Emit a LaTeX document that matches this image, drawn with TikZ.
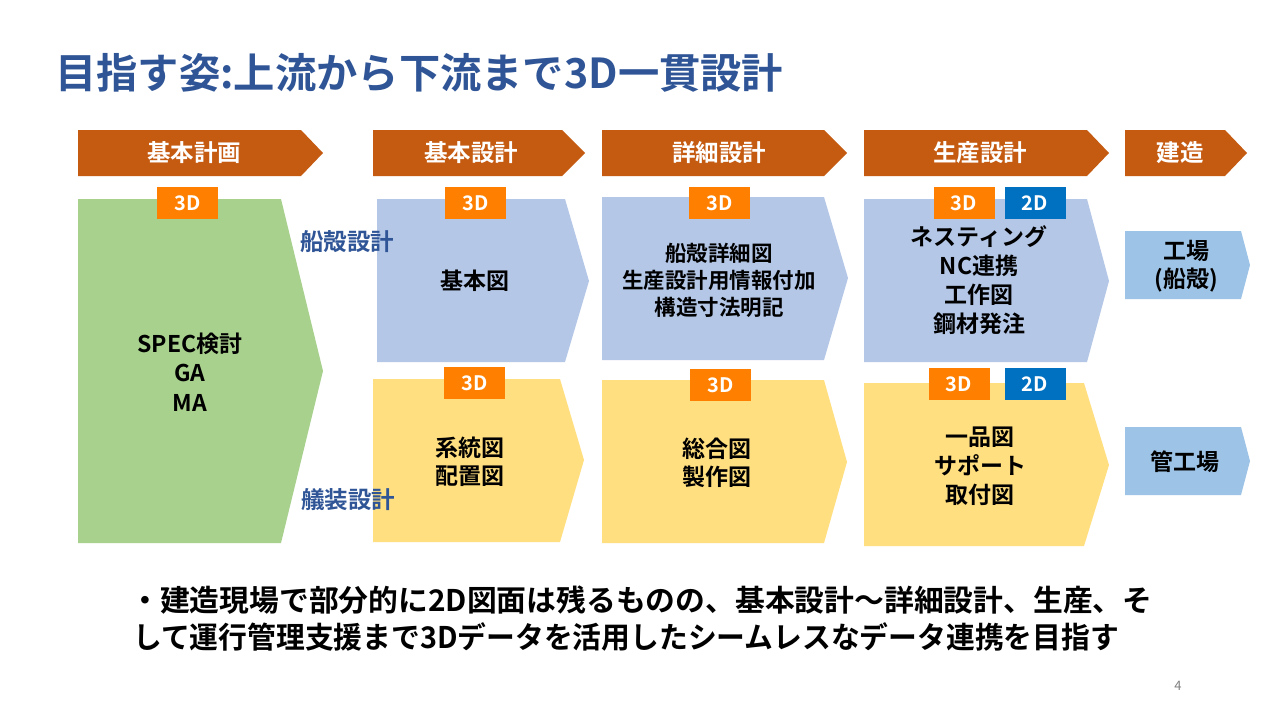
\documentclass[tikz,border=0pt]{standalone}
\usepackage{fontspec}
\setmainfont{Noto Sans CJK JP}[BoldFont={Noto Sans CJK JP Bold}]
\definecolor{hdrc}{HTML}{C55A11}
\definecolor{greenc}{HTML}{A9D18E}
\definecolor{bluec}{HTML}{B4C7E7}
\definecolor{yellowc}{HTML}{FFDF80}
\definecolor{factc}{HTML}{9DC3E6}
\definecolor{orangec}{HTML}{FF8000}
\definecolor{twodc}{HTML}{0070C0}
\definecolor{titlec}{HTML}{2F5597}
\begin{document}
\begin{tikzpicture}[x=1pt,y=-1pt,
  hdrtext/.style={text=white,font=\fontsize{23.5}{26}\selectfont\bfseries,inner sep=0},
  boxtext/.style={text=black,align=center,font=\fontsize{23}{28}\selectfont\bfseries,inner sep=0},
  badge/.style={minimum width=61,minimum height=32,inner sep=0,text=white,font=\fontsize{20}{22}\selectfont\bfseries},
  threed/.style={badge,fill=orangec},
  twod/.style={badge,fill=twodc},
  sidelabel/.style={text=titlec,font=\fontsize{23.5}{26}\selectfont\bfseries,inner sep=0}]
\useasboundingbox (0,0) rectangle (1280,720);
\fill[white] (0,0) rectangle (1280,720);

% title
\node[anchor=west,text=titlec,font=\fontsize{41.3}{44}\selectfont\bfseries,inner sep=0] (title) at (55,73) {目指す姿:上流から下流まで3D一貫設計};

% header arrows
\fill[hdrc] (78,130) -- (301,130) -- (323,153) -- (301,176) -- (78,176) -- cycle;
\fill[hdrc] (373,130) -- (562,130) -- (585,153) -- (562,176) -- (373,176) -- cycle;
\fill[hdrc] (602,130) -- (824,130) -- (847,153) -- (824,176) -- (602,176) -- cycle;
\fill[hdrc] (864,130) -- (1087,130) -- (1109,153) -- (1087,176) -- (864,176) -- cycle;
\fill[hdrc] (1125,130) -- (1225,130) -- (1247,153) -- (1225,176) -- (1125,176) -- cycle;
\node[hdrtext] (h1) at (194,153) {基本計画};
\node[hdrtext] (h2) at (471,153) {基本設計};
\node[hdrtext] (h3) at (719,153) {詳細設計};
\node[hdrtext] (h4) at (980,153) {生産設計};
\node[hdrtext] (h5) at (1180,153) {建造};

% green box
\fill[greenc] (78,199) -- (281,199) -- (323,371) -- (281,543) -- (78,543) -- cycle;
% blue boxes
\fill[bluec] (377,199) -- (565,199) -- (589,281) -- (565,362) -- (377,362) -- cycle;
\fill[bluec] (602,197) -- (824,197) -- (848,278) -- (824,360) -- (602,360) -- cycle;
\fill[bluec] (864,199) -- (1087,199) -- (1109,281) -- (1087,362) -- (864,362) -- cycle;
% yellow boxes
\fill[yellowc] (373,379) -- (560,379) -- (584,460) -- (560,542) -- (373,542) -- cycle;
\fill[yellowc] (602,380) -- (824,380) -- (847,462) -- (824,543) -- (602,543) -- cycle;
\fill[yellowc] (864,383) -- (1084,383) -- (1109,465) -- (1084,546) -- (864,546) -- cycle;
% factory boxes
\fill[factc] (1125,231) -- (1241,231) -- (1250,265) -- (1241,299) -- (1125,299) -- cycle;
\fill[factc] (1125,427) -- (1241,427) -- (1250,461) -- (1241,495) -- (1125,495) -- cycle;

% badges
\node[threed] (bg) at (187.5,203) {3D};
\node[threed] (bb1) at (475.5,203) {3D};
\node[threed] (bb2) at (719.5,203) {3D};
\node[threed] (bb3) at (964,203) {3D};
\node[twod] (bb3b) at (1035,203) {2D};
\node[threed] (by1) at (474.5,383) {3D};
\node[threed] (by2) at (720.5,385) {3D};
\node[threed] (by3) at (959,384) {3D};
\node[twod] (by3b) at (1035,384) {2D};

% box texts
\node[boxtext,font=\fontsize{23}{29.5}\selectfont\bfseries] (tg) at (190,372) {SPEC検討\\GA\\MA};
\node[boxtext] (tb1) at (475,281) {基本図};
\node[boxtext,font=\fontsize{21.5}{27}\selectfont\bfseries] (tb2) at (719,280) {船殻詳細図\\生産設計用情報付加\\構造寸法明記};
\node[boxtext,font=\fontsize{23}{29}\selectfont\bfseries] (tb3) at (979,280.5) {ネスティング\\NC連携\\工作図\\鋼材発注};
\node[boxtext] (tf1) at (1186,266) {工場\\(船殻)};
\node[boxtext] (ty1) at (470,462) {系統図\\配置図};
\node[boxtext] (ty2) at (717,462.5) {総合図\\製作図};
\node[boxtext,font=\fontsize{23}{29}\selectfont\bfseries] (ty3) at (980,466) {一品図\\サポート\\取付図};
\node[boxtext] (tf2) at (1185,462) {管工場};

% side labels
\node[sidelabel] (l1) at (347,242) {船殻設計};
\node[sidelabel] (l2) at (348,500) {艤装設計};

% bottom text
\node[anchor=west,inner sep=0,font=\fontsize{29.8}{37}\selectfont\bfseries] (b1) at (130,600) {・建造現場で部分的に2D図面は残るものの、基本設計～詳細設計、生産、そ};
\node[anchor=west,inner sep=0,font=\fontsize{29.8}{37}\selectfont\bfseries] (b2) at (133,637) {\scalebox{0.966}[1]{して運行管理支援まで3Dデータを活用したシームレスなデータ連携を目指す}};

% page number
\node[text=gray,font=\fontsize{13}{15}\selectfont,inner sep=0] (pg) at (1178,686) {4};
\end{tikzpicture}
\end{document}
